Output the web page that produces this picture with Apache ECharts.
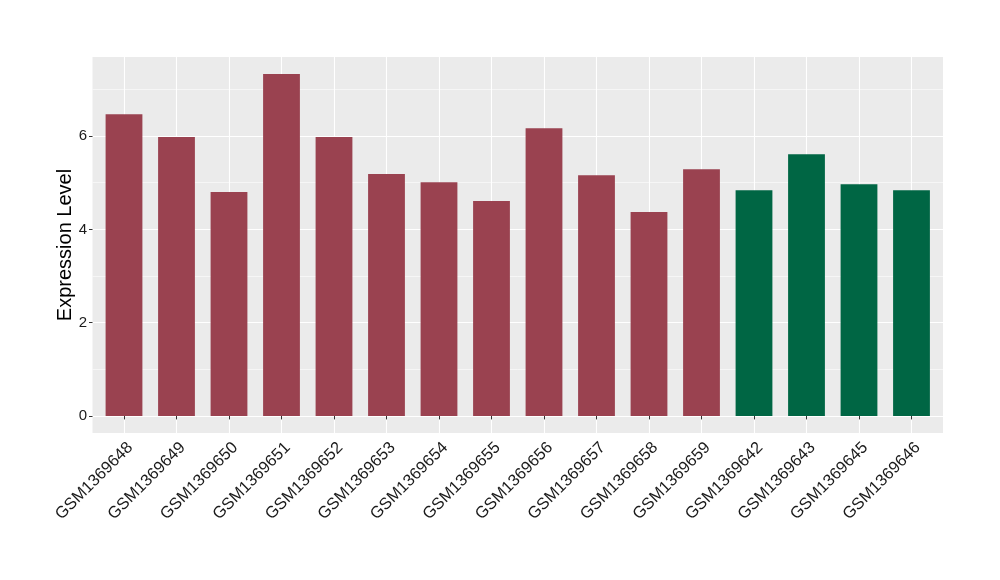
<!DOCTYPE html>
<html>
<head>
<meta charset="utf-8">
<script src="https://cdn.jsdelivr.net/npm/echarts@6/dist/echarts.min.js"></script>
<style>
html,body{margin:0;padding:0;background:#fff;}
#chart{width:1000px;height:580px;}
</style>
</head>
<body>
<div id="chart"></div>
<script>
var categories = ['GSM1369648','GSM1369649','GSM1369650','GSM1369651','GSM1369652','GSM1369653','GSM1369654','GSM1369655','GSM1369656','GSM1369657','GSM1369658','GSM1369659','GSM1369642','GSM1369643','GSM1369645','GSM1369646'];
var values = [6.47, 5.98, 4.80, 7.33, 5.98, 5.19, 5.01, 4.61, 6.17, 5.16, 4.37, 5.29, 4.84, 5.61, 4.97, 4.84];
var groups = ['A','A','A','A','A','A','A','A','A','A','A','A','B','B','B','B'];
var groupColors = {A: '#9A4250', B: '#006644'};
var yMajorTicks = [0, 2, 4, 6];
var yMinorTicks = [1, 3, 5, 7];

var positions = categories.map(function (c, i) { return i + 1; });
var dataMax = Math.max.apply(null, values);
var yMin = -0.05 * dataMax;
var yMax = dataMax * 1.05;

var FONT = '"Liberation Sans", Arial, sans-serif';
var chart = echarts.init(document.getElementById('chart'), null, {renderer: 'canvas'});

var barData = values.map(function (v, i) {
  return {value: [positions[i], v], itemStyle: {color: groupColors[groups[i]]}};
});

var option = {
  animation: false,
  backgroundColor: '#ffffff',
  grid: {
    left: 92.5, right: 57, top: 57, bottom: 147,
    show: true, backgroundColor: '#EBEBEB', borderWidth: 0
  },
  xAxis: [{
    type: 'value',
    min: 0.4,
    max: categories.length + 0.6,
    axisLine: {show: false},
    axisTick: {show: true, customValues: positions, length: 3.5, lineStyle: {color: '#333333', width: 1}},
    axisLabel: {
      show: true,
      customValues: positions.map(function (p) { return p + 0.12; }),
      formatter: function (v) { return categories[Math.round(v) - 1]; },
      rotate: 45,
      margin: 12,
      fontSize: 16.5,
      color: '#1A1A1A',
      fontFamily: FONT
    },
    splitLine: {show: true, lineStyle: {color: '#FFFFFF', width: 1.1}}
  }],
  yAxis: [{
    type: 'value',
    min: yMin,
    max: yMax,
    name: 'Expression Level',
    nameLocation: 'middle',
    nameGap: 17,
    nameMoveOverlap: false,
    nameTextStyle: {fontSize: 20, color: '#000000', fontFamily: FONT},
    axisLine: {show: false},
    axisTick: {show: true, customValues: yMajorTicks, length: 3.5, lineStyle: {color: '#333333', width: 1}},
    axisLabel: {show: true, customValues: yMajorTicks, margin: 5.5, fontSize: 15, color: '#1A1A1A', fontFamily: FONT},
    splitLine: {show: true, lineStyle: {color: '#FFFFFF', width: 1.1}}
  }, {
    type: 'value',
    min: yMin,
    max: yMax,
    position: 'left',
    axisLine: {show: false},
    axisTick: {show: false, customValues: yMinorTicks},
    axisLabel: {show: false, customValues: yMinorTicks},
    splitLine: {show: true, lineStyle: {color: '#FFFFFF', width: 0.55}}
  }],
  series: [{
    type: 'bar',
    xAxisIndex: 0,
    yAxisIndex: 0,
    barWidth: 36.8,
    data: barData,
    silent: true
  }]
};
chart.setOption(option);
</script>
</body>
</html>
